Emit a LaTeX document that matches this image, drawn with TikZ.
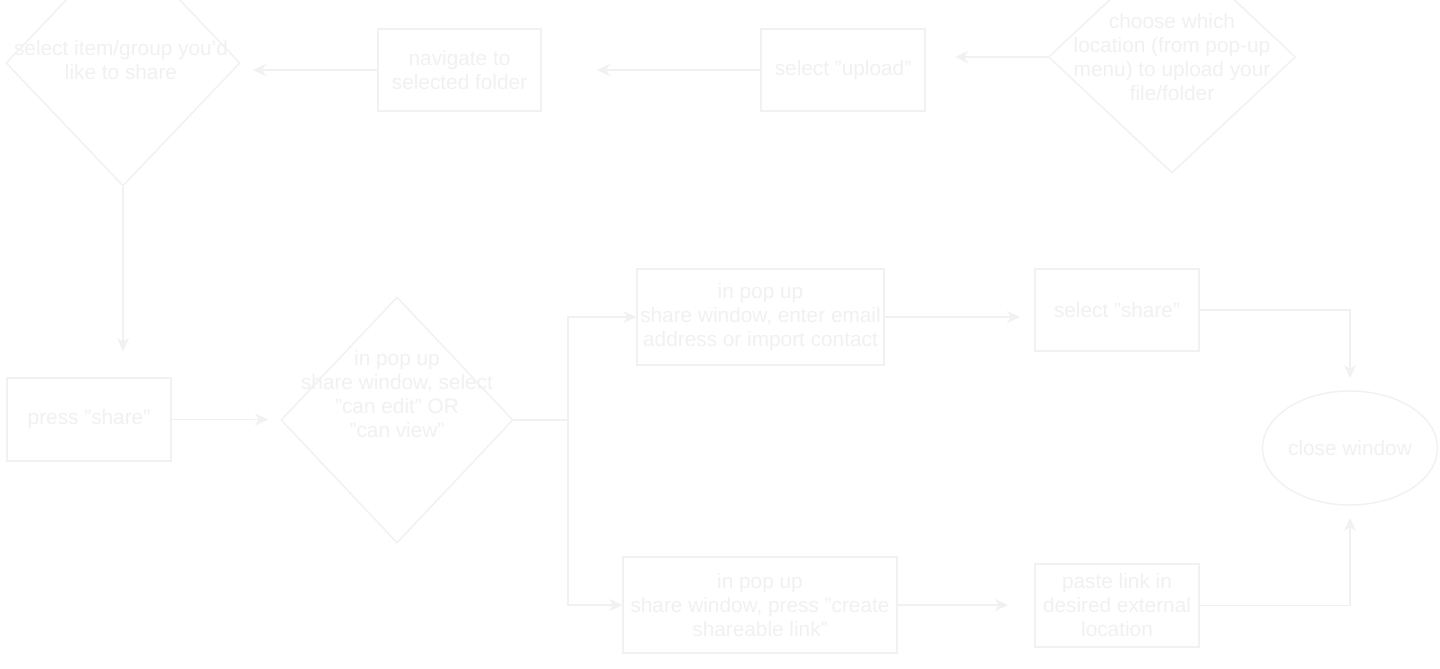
\documentclass[tikz,border=0pt]{standalone}
\usepackage{fontspec}
\setmainfont{Liberation Sans}
\usetikzlibrary{shapes.geometric,arrows.meta}
\definecolor{pale}{RGB}{241,241,241}
\begin{document}
\begin{tikzpicture}[x=1pt,y=-1pt,
  every node/.style={font=\fontsize{20.8}{24}\selectfont, text=pale, align=center},
  box/.style={draw=pale, line width=1.4pt, rectangle, inner sep=0pt},
  dia/.style={draw=pale, line width=1.4pt, diamond, inner sep=0pt},
  oval/.style={draw=pale, line width=1.4pt, ellipse, inner sep=0pt},
  arr/.style={draw=pale, line width=1.4pt, -{Stealth[length=13pt,width=12pt,inset=4pt]}},
  ln/.style={draw=pale, line width=1.4pt}]
\useasboundingbox[fill=white] (0,0) rectangle (1440,669);

% shapes
\node[dia, minimum width=234pt, minimum height=246pt] (d1) at (123,63) {};
\node (t1) at (121,60) {select item/group you'd\\like to share};
\node[box, minimum width=163pt, minimum height=82pt] (nav) at (459.5,70) {navigate to\\selected folder};
\node[box, minimum width=164pt, minimum height=82pt] (upl) at (843,70) {select "upload"};
\node[dia, minimum width=247pt, minimum height=232pt] (d2) at (1172,57) {};
\node (t2) at (1172,57) {choose which\\location (from pop-up\\menu) to upload your\\file/folder};
\node[box, minimum width=164pt, minimum height=83pt] (psh) at (89,419.5) {press "share"};
\node[dia, minimum width=232pt, minimum height=246pt] (d3) at (397,420) {};
\node (t3) at (397,394) {in pop up\\share window, select\\"can edit" OR\\"can view"};
\node[box, minimum width=247pt, minimum height=96pt] (email) at (760.5,317) {in pop up\\share window, enter email\\address or import contact};
\node[box, minimum width=164pt, minimum height=82pt] (sel) at (1117,310) {select "share"};
\node[oval, minimum width=164pt, minimum height=114pt] (close) at (1350,448) {close window};
\node[box, minimum width=274pt, minimum height=96pt] (link) at (760,605) {in pop up\\share window, press "create\\shareable link"};
\node[box, minimum width=164pt, minimum height=83pt] (paste) at (1117,605.5) {paste link in\\desired external\\location};

% free arrow ends
\coordinate (e1) at (253,70);
\coordinate (e2) at (597,70);
\coordinate (e3) at (955,57);
\coordinate (e4) at (123,351);
\coordinate (e5) at (268,419.5);
\coordinate (j) at (568,420);
\coordinate (e6) at (1020,317);
\coordinate (e7) at (1350,378);
\coordinate (e8) at (1008,605);
\coordinate (e9) at (1350,518);

% connectors
\draw[arr] (nav.west) -- (e1);
\draw[arr] (upl.west) -- (e2);
\draw[arr] (d2.west) -- (e3);
\draw[arr] (d1.south) -- (e4);
\draw[arr] (psh.east) -- (e5);
\draw[ln] (d3.east) -- (j);
\draw[arr] (j) |- (email.west);
\draw[arr] (j) |- (link.west);
\draw[arr] (email.east) -- (e6);
\draw[arr] (sel.east) -| (e7);
\draw[arr] (link.east) -- (e8);
\draw[arr] (paste.east) -| (e9);
\end{tikzpicture}
\end{document}
